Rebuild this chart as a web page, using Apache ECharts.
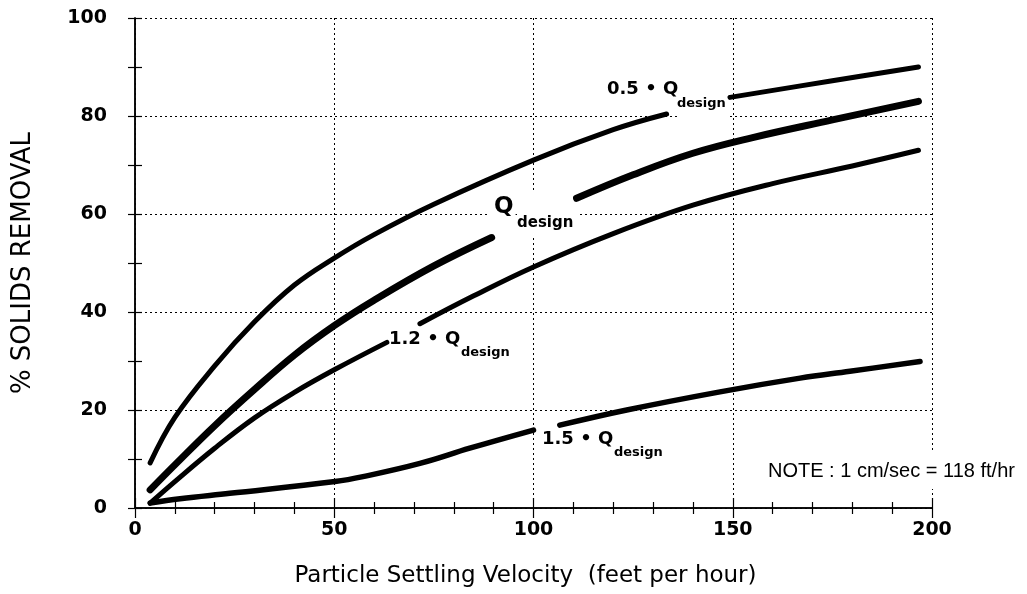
<!DOCTYPE html>
<html>
<head>
<meta charset="utf-8">
<script src="https://cdn.jsdelivr.net/npm/echarts@6/dist/echarts.min.js"></script>
<style>
html,body{margin:0;padding:0;background:#fff;}
#chart{width:1027px;height:594px;}
</style>
</head>
<body>
<div id="chart"></div>
<script>
// ---- data ----
const xTicks = [0, 50, 100, 150, 200];
const yTicks = [0, 20, 40, 60, 80, 100];
const GAP = ['-', '-'];
const curveHalfQ = [[3.8,9.2],[10,18.5],[20,29],[30,38],[40,45.5],[50,51],[60,55.8],[75,62],[100,71],[120,77.2],[133.4,80.4],GAP,[149.3,83.8],[175,87.2],[196.6,90]];
const curveDesignQ = [[3.8,3.7],[10,8.8],[20,16.8],[30,24.2],[40,31.2],[50,37.2],[60,42.4],[75,49.4],[89.5,55.2],GAP,[110.8,63.2],[125,68],[140,72.4],[155,75.6],[175,79.2],[196.6,83]];
const curve12Q = [[3.8,1],[10,5.4],[20,12.2],[30,18.4],[40,23.6],[50,28.2],[63.2,33.8],GAP,[71.5,37.6],[85,43.3],[100,49.2],[120,56],[140,61.8],[160,66.2],[180,69.8],[196.6,73]];
const curve15Q = [[3.8,1],[11.3,1.9],[23.8,3],[50.2,5.4],[57.2,6.4],[71.5,9.1],[84,12.2],[100,15.9],GAP,[106.6,16.9],[123.4,20],[146.8,23.7],[166.9,26.5],[179.4,27.9],[197,29.9]];

const FONT = 'DejaVu Sans';
const chart = echarts.init(document.getElementById('chart'), null, {renderer: 'canvas'});

function curve(name, data, width) {
  return {
    name: name, type: 'line', data: data, smooth: 0.4, showSymbol: false,
    connectNulls: false, z: 5,
    lineStyle: {color: '#000', width: width, cap: 'round', join: 'round'}
  };
}

const baseX = {
  type: 'value', min: 0, max: 200, interval: 50,
  axisLine: {show: true, lineStyle: {color: '#000', width: 1.5}},
  axisTick: {show: true, inside: true, length: 10, lineStyle: {color: '#000', width: 1.2}},
  minorTick: {show: true, splitNumber: 5, length: 6, lineStyle: {color: '#000', width: 1.2}},
  splitLine: {show: false}
};
const baseY = {
  type: 'value', min: 0, max: 100, interval: 20,
  axisLine: {show: true, lineStyle: {color: '#000', width: 1.5}},
  axisTick: {show: true, inside: true, length: 7, lineStyle: {color: '#000', width: 1.2}},
  minorTick: {show: true, splitNumber: 2, length: 7, lineStyle: {color: '#000', width: 1.2}},
  splitLine: {show: false}
};

const option = {
  backgroundColor: '#fff',
  animation: false,
  grid: {left: 135, right: 95, top: 18, bottom: 86},
  xAxis: [
    Object.assign({}, baseX, {
      position: 'bottom',
      name: 'Particle Settling Velocity  (feet per hour)',
      nameLocation: 'middle', nameGap: 57,
      nameTextStyle: {fontFamily: FONT, fontSize: 23, color: '#000', padding: [0, 16, 0, 0]},
      axisLabel: {show: true, margin: 13, color: '#000', fontFamily: FONT, fontWeight: 'bold', fontSize: 19,
        formatter: v => xTicks.includes(v) ? String(v) : ''},
      splitLine: {show: true, lineStyle: {color: '#000', type: [2, 3], width: 1}}
    }),
    Object.assign({}, baseX, {position: 'top', axisLabel: {show: false}})
  ],
  yAxis: [
    Object.assign({}, baseY, {
      position: 'left',
      name: '% SOLIDS REMOVAL',
      nameLocation: 'middle', nameGap: 99, nameRotate: 90,
      nameTextStyle: {fontFamily: FONT, fontSize: 26, color: '#000'},
      axisLabel: {show: true, margin: 28, color: '#000', fontFamily: FONT, fontWeight: 'bold', fontSize: 19,
        formatter: v => yTicks.includes(v) ? String(v) : ''},
      splitLine: {show: true, lineStyle: {color: '#000', type: [2, 3], width: 1}}
    }),
    Object.assign({}, baseY, {position: 'right', axisLabel: {show: false}})
  ],
  series: [
    curve('0.5 Q', curveHalfQ, 5),
    curve('Q', curveDesignQ, 7),
    curve('1.2 Q', curve12Q, 5),
    curve('1.5 Q', curve15Q, 5.5)
  ],
  graphic: [
    // 0.5 · Q design
    {type: 'text', z: 1, left: 603, top: 76, style: {text: '0.5 • Q', font: 'bold 18px "DejaVu Sans"', fill: '#000', backgroundColor: '#fff', padding: [4, 0, 16, 4]}},
    {type: 'text', z: 1, left: 677, top: 96, style: {text: 'design', font: 'bold 13px "DejaVu Sans"', fill: '#000', backgroundColor: '#fff', padding: [1, 2, 12, 0]}},
    // Q design
    {type: 'text', z: 1, left: 488, top: 192, style: {text: 'Q', font: 'bold 23px "DejaVu Sans"', fill: '#000', backgroundColor: '#fff', padding: [4, 2, 4, 6]}},
    {type: 'text', z: 1, left: 517, top: 192, style: {text: 'design', font: 'bold 15px "DejaVu Sans"', fill: '#000', backgroundColor: '#fff', padding: [24, 4, 6, 0]}},
    // 1.2 · Q design
    {type: 'text', z: 1, left: 389, top: 330, style: {text: '1.2 • Q', font: 'bold 18px "DejaVu Sans"', fill: '#000'}},
    {type: 'text', z: 1, left: 461, top: 346, style: {text: 'design', font: 'bold 13px "DejaVu Sans"', fill: '#000'}},
    // 1.5 · Q design
    {type: 'text', z: 1, left: 542, top: 430, style: {text: '1.5 • Q', font: 'bold 18px "DejaVu Sans"', fill: '#000'}},
    {type: 'text', z: 1, left: 614, top: 446, style: {text: 'design', font: 'bold 13px "DejaVu Sans"', fill: '#000'}},
    // note
    {type: 'text', z: 1, left: 766, top: 453, style: {text: 'NOTE : 1 cm/sec = 118 ft/hr', font: '20px "Liberation Sans"', fill: '#000', backgroundColor: '#fff', padding: [8, 2, 8, 2]}}
  ]
};
chart.setOption(option);
</script>
</body>
</html>
